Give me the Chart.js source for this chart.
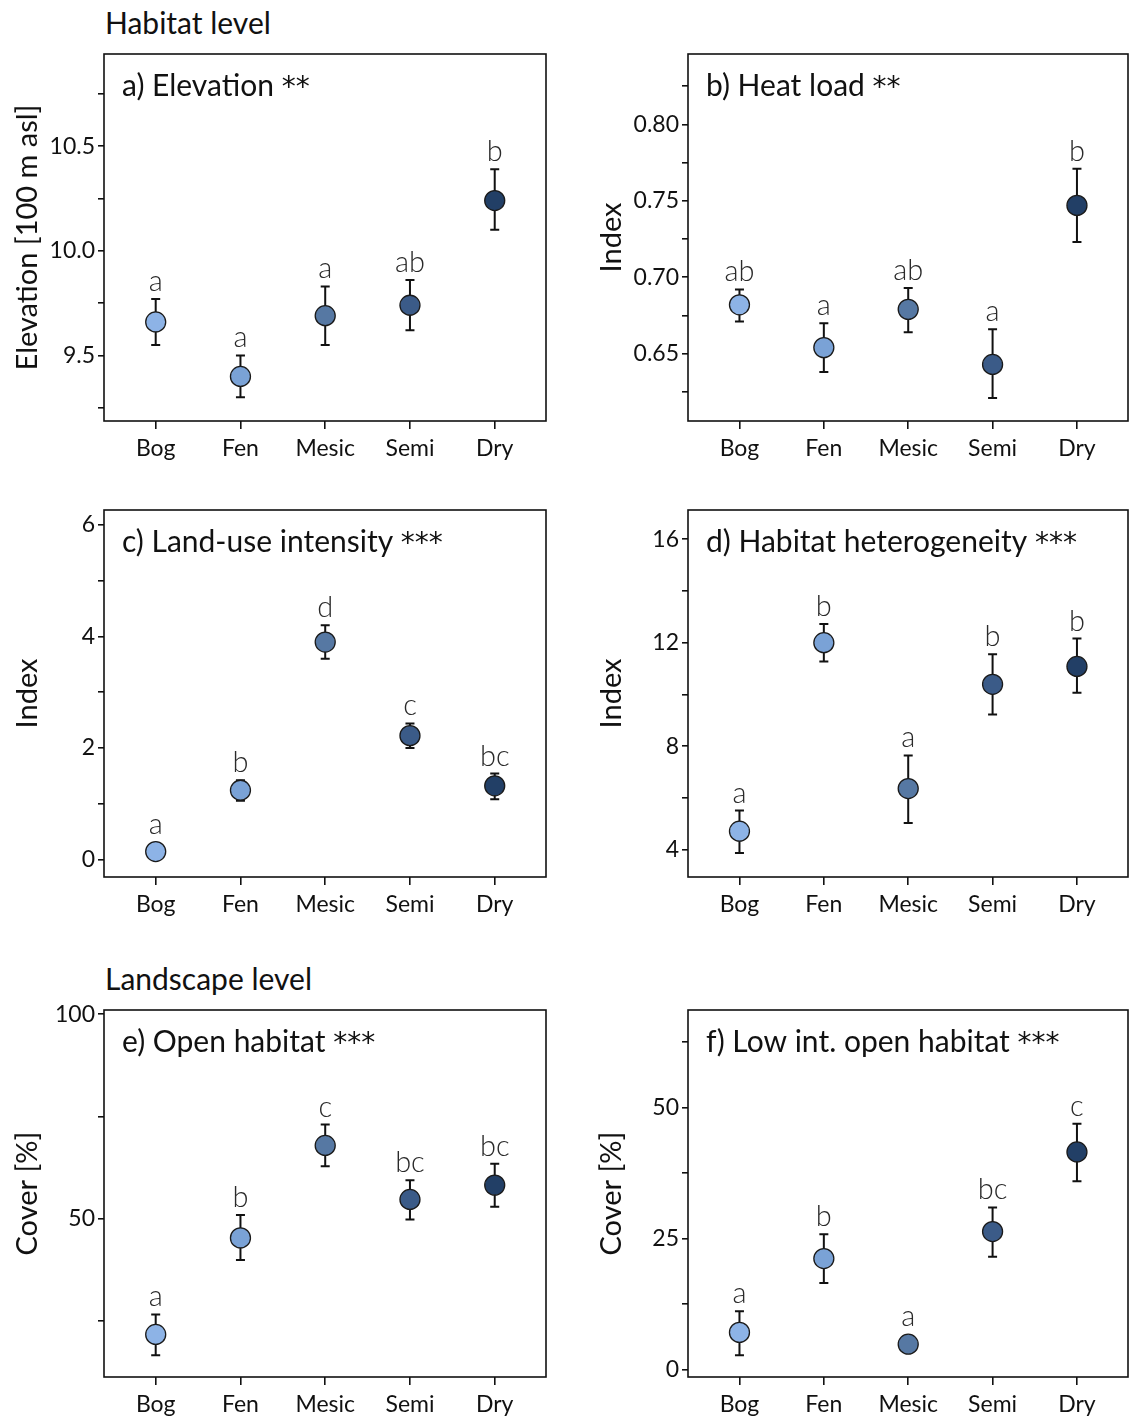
<!DOCTYPE html>
<html>
<head>
<meta charset="utf-8">
<script src="https://cdn.jsdelivr.net/npm/chart.js@4.4.0/dist/chart.umd.min.js"></script>
<style>
  body { margin: 0; background: #fff; width: 1130px; height: 1419px; overflow: hidden; position: relative; font-family: Lato, sans-serif; }
  canvas { position: absolute; }
  .section { position: absolute; font-size: 30px; color: #111; line-height: 34px; }
</style>
</head>
<body>
<div class="section" style="left:105px; top:5px;">Habitat level</div>
<div class="section" style="left:105px; top:961px;">Landscape level</div>

<canvas id="pa" width="565" height="463" style="left:0; top:0;"></canvas>
<canvas id="pb" width="546" height="463" style="left:584px; top:0;"></canvas>
<canvas id="pc" width="565" height="463" style="left:0; top:456px;"></canvas>
<canvas id="pd" width="546" height="463" style="left:584px; top:456px;"></canvas>
<canvas id="pe" width="565" height="463" style="left:0; top:956px;"></canvas>
<canvas id="pf" width="546" height="463" style="left:584px; top:956px;"></canvas>

<script>
// habitat types on the x axis
const categories = ['Bog', 'Fen', 'Mesic', 'Semi', 'Dry'];
const pointColors = ['#8db3e6', '#7aa2d6', '#5678a3', '#3b5b88', '#223f66'];

// a) elevation [100 m asl]
const elevMean = [9.66, 9.40, 9.69, 9.74, 10.24];
const elevLow = [9.55, 9.30, 9.55, 9.62, 10.10];
const elevHigh = [9.77, 9.50, 9.83, 9.86, 10.39];
const elevLetters = ['a', 'a', 'a', 'ab', 'b'];

// b) heat load index
const heatMean = [0.682, 0.654, 0.679, 0.643, 0.747];
const heatLow = [0.671, 0.638, 0.664, 0.621, 0.723];
const heatHigh = [0.692, 0.670, 0.693, 0.666, 0.771];
const heatLetters = ['ab', 'a', 'ab', 'a', 'b'];

// c) land-use intensity index
const luiMean = [0.14, 1.24, 3.90, 2.22, 1.32];
const luiLow = [0.06, 1.05, 3.60, 2.00, 1.08];
const luiHigh = [0.22, 1.42, 4.20, 2.44, 1.54];
const luiLetters = ['a', 'b', 'd', 'c', 'bc'];

// d) habitat heterogeneity index
const hetMean = [4.71, 12.0, 6.36, 10.39, 11.08];
const hetLow = [3.87, 11.27, 5.03, 9.22, 10.06];
const hetHigh = [5.51, 12.72, 7.64, 11.55, 12.16];
const hetLetters = ['a', 'b', 'a', 'b', 'b'];

// e) open habitat cover [%]
const openMean = [21.7, 45.3, 67.9, 54.7, 58.2];
const openLow = [16.6, 39.9, 62.8, 49.8, 52.9];
const openHigh = [26.6, 50.9, 73.0, 59.4, 63.4];
const openLetters = ['a', 'b', 'c', 'bc', 'bc'];

// f) low intensity open habitat cover [%]
const lowMean = [7.05, 21.15, 4.8, 26.3, 41.5];
const lowLow = [2.7, 16.5, 4.0, 21.5, 35.9];
const lowHigh = [11.1, 25.8, 5.6, 30.9, 46.9];
const lowLetters = ['a', 'b', 'a', 'bc', 'c'];

function isMajor(v, major) {
  const r = v / major;
  return Math.abs(r - Math.round(r)) < 1e-6;
}

function makePanel(id, cfg) {
  const padRight = cfg.right ? 2 : 19;
  const deco = {
    id: 'deco',
    beforeDatasetsDraw(chart) {
      const c = chart.ctx, xs = chart.scales.x, ys = chart.scales.y;
      c.save();
      c.strokeStyle = '#111';
      c.lineWidth = 2;
      cfg.mean.forEach((m, i) => {
        const x = xs.getPixelForValue(i);
        const y1 = ys.getPixelForValue(cfg.low[i]);
        const y2 = ys.getPixelForValue(cfg.high[i]);
        c.beginPath();
        c.moveTo(x, y1); c.lineTo(x, y2);
        c.moveTo(x - 4.5, y1); c.lineTo(x + 4.5, y1);
        c.moveTo(x - 4.5, y2); c.lineTo(x + 4.5, y2);
        c.stroke();
      });
      c.restore();
    },
    afterDraw(chart) {
      const a = chart.chartArea, c = chart.ctx, xs = chart.scales.x, ys = chart.scales.y;
      c.save();
      c.strokeStyle = '#111';
      c.lineWidth = 1.6;
      c.strokeRect(a.left, a.top, a.right - a.left, a.bottom - a.top);
      // panel title + significance stars
      c.fillStyle = '#111';
      c.textAlign = 'left';
      c.textBaseline = 'alphabetic';
      c.font = '30px Lato';
      const head = cfg.title + ' ';
      c.fillText(head, a.left + 18, a.top + 42);
      const w = c.measureText(head).width;
      c.font = '28px "DejaVu Sans"';
      c.fillText(cfg.stars, a.left + 18 + w, a.top + 42);
      // group letters
      c.fillStyle = '#2a2a2a';
      c.font = '300 29px Lato';
      c.textAlign = 'center';
      cfg.letters.forEach((t, i) => {
        const x = xs.getPixelForValue(i);
        const yc = ys.getPixelForValue(cfg.mean[i]);
        const yh = ys.getPixelForValue(cfg.high[i]);
        const ref = Math.min(yh, yc - 10);
        c.fillText(t, x, ref - 8);
      });
      c.restore();
    }
  };

  new Chart(document.getElementById(id).getContext('2d'), {
    type: 'scatter',
    data: {
      datasets: [{
        data: cfg.mean.map((m, i) => ({ x: i, y: m })),
        pointRadius: 10,
        pointHoverRadius: 10,
        pointBackgroundColor: pointColors,
        pointBorderColor: '#1a1a1a',
        pointBorderWidth: 1.3
      }]
    },
    options: {
      responsive: false,
      animation: false,
      events: [],
      layout: { autoPadding: false, padding: { top: 54, right: padRight, left: 0, bottom: 0 } },
      plugins: { legend: { display: false }, tooltip: { enabled: false } },
      scales: {
        x: {
          type: 'linear',
          min: -0.61,
          max: 4.605,
          afterFit(s) { s.height = 42; s.paddingLeft = 0; s.paddingRight = 0; },
          border: { display: false },
          grid: { drawOnChartArea: false, drawTicks: true, tickLength: 8, color: '#111', lineWidth: 1.6 },
          ticks: {
            stepSize: 1,
            includeBounds: false,
            autoSkip: false,
            maxRotation: 0,
            padding: 6,
            color: '#111',
            font: { family: 'Lato', size: 23 },
            callback: v => categories[v] !== undefined ? categories[v] : ''
          }
        },
        y: {
          min: cfg.min,
          max: cfg.max,
          afterFit(s) { s.width = 104; s.paddingTop = 0; s.paddingBottom = 0; },
          border: { display: false },
          grid: { drawOnChartArea: false, drawTicks: true, tickLength: 6, color: '#111', lineWidth: 1.6 },
          title: {
            display: true,
            text: cfg.yTitle,
            color: '#111',
            font: { family: 'Lato', size: 29 },
            padding: { top: 10, bottom: 0 }
          },
          ticks: {
            stepSize: cfg.step,
            includeBounds: false,
            autoSkip: false,
            padding: 3,
            color: '#111',
            font: { family: 'Lato', size: 23 },
            callback: v => isMajor(v, cfg.major) ? Number(v).toFixed(cfg.dec) : ''
          }
        }
      }
    },
    plugins: [deco]
  });
}

makePanel('pa', { title: 'a) Elevation', stars: '**', yTitle: 'Elevation [100 m asl]', mean: elevMean, low: elevLow, high: elevHigh, letters: elevLetters, min: 9.187, max: 10.94, step: 0.25, major: 0.5, dec: 1 });
makePanel('pb', { right: true, title: 'b) Heat load', stars: '**', yTitle: 'Index', mean: heatMean, low: heatLow, high: heatHigh, letters: heatLetters, min: 0.606, max: 0.846, step: 0.025, major: 0.05, dec: 2 });
makePanel('pc', { title: 'c) Land-use intensity', stars: '***', yTitle: 'Index', mean: luiMean, low: luiLow, high: luiHigh, letters: luiLetters, min: -0.317, max: 6.27, step: 1, major: 2, dec: 0 });
makePanel('pd', { right: true, title: 'd) Habitat heterogeneity', stars: '***', yTitle: 'Index', mean: hetMean, low: hetLow, high: hetHigh, letters: hetLetters, min: 2.94, max: 17.13, step: 2, major: 4, dec: 0 });
makePanel('pe', { title: 'e) Open habitat', stars: '***', yTitle: 'Cover [%]', mean: openMean, low: openLow, high: openHigh, letters: openLetters, min: 11.3, max: 101, step: 25, major: 50, dec: 0 });
makePanel('pf', { right: true, title: 'f) Low int. open habitat', stars: '***', yTitle: 'Cover [%]', mean: lowMean, low: lowLow, high: lowHigh, letters: lowLetters, min: -1.47, max: 68.6, step: 12.5, major: 25, dec: 0 });
</script>
</body>
</html>
